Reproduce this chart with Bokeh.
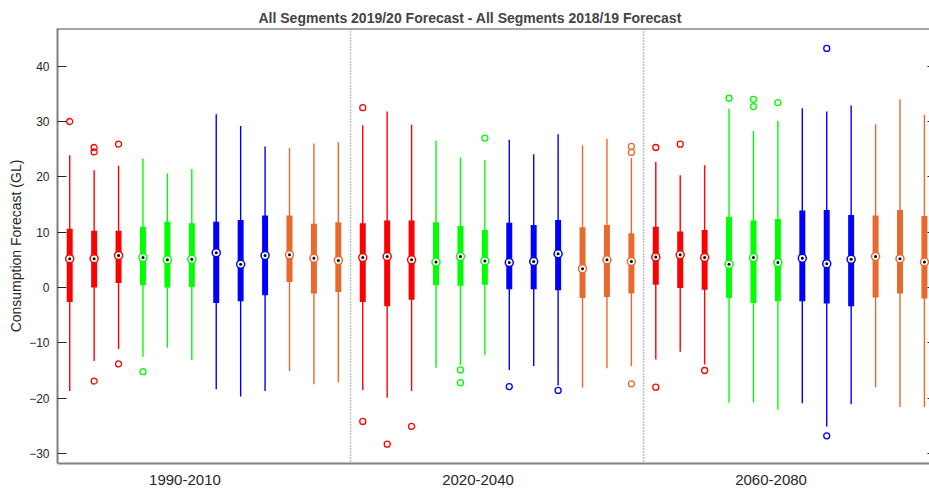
import numpy as np
from bokeh.plotting import figure
from bokeh.models import (Range1d, LinearAxis, SingleIntervalTicker, FixedTicker,
                          Span, ColumnDataSource, CustomLabelingPolicy)
from bokeh.embed import file_html
from bokeh.resources import INLINE

# --- data -----------------------------------------------------------------
periods = ["1990-2010", "2020-2040", "2060-2080"]
period_label_pos = [5.72, 17.72, 29.72]
series_colours = ["#FF0000"] * 3 + ["#00FF00"] * 3 + ["#0000FF"] * 3 + ["#E9692C"] * 3

whisker_hi = [23.9, 21.2, 22.0, 23.3, 20.6, 21.4, 31.3, 29.2, 25.5, 25.2, 26.0, 26.3,
              29.3, 31.8, 29.4, 26.5, 23.5, 23.0, 26.7, 24.1, 27.7, 25.7, 26.9, 23.4,
              22.7, 20.3, 22.1, 32.3, 28.3, 30.1, 32.4, 31.8, 32.9, 29.5, 34.0, 31.2]
q3 = [10.6, 10.25, 10.25, 11.0, 11.9, 11.6, 11.9, 12.2, 13.0, 13.0, 11.5, 11.8,
      11.6, 12.1, 12.1, 11.8, 11.1, 10.4, 11.7, 11.3, 12.2, 10.9, 11.3, 9.8,
      11.0, 10.1, 10.4, 12.8, 12.1, 12.4, 13.9, 14.0, 13.1, 13.0, 14.0, 12.9]
median = [5.2, 5.2, 5.8, 5.4, 5.0, 5.1, 6.3, 4.2, 5.8, 5.9, 5.3, 4.9,
          5.4, 5.6, 5.0, 4.6, 5.6, 4.8, 4.5, 4.7, 6.1, 3.4, 5.0, 4.7,
          5.5, 5.9, 5.4, 4.2, 5.4, 4.5, 5.3, 4.3, 5.1, 5.6, 5.2, 4.6]
q1 = [-2.6, 0.0, 0.8, 0.4, 0.0, 0.1, -2.8, -2.5, -1.4, 1.0, -1.1, -0.8,
      -2.6, -3.4, -2.2, 0.4, 0.3, 0.5, -0.3, -0.3, -0.5, -1.9, -1.7, -1.1,
      0.5, -0.1, -0.4, -1.9, -2.8, -2.5, -2.5, -2.9, -3.4, -1.8, -1.1, -2.0]
whisker_lo = [-18.7, -13.3, -11.1, -12.5, -10.9, -13.1, -18.4, -19.7, -18.7, -15.1, -17.5, -17.1,
              -18.5, -19.9, -18.7, -14.5, -14.0, -12.2, -14.9, -14.2, -17.7, -18.1, -14.6, -14.2,
              -13.0, -11.6, -13.9, -20.8, -20.8, -22.1, -20.9, -25.1, -21.1, -18.0, -21.6, -21.6]

# outliers: box number (1-based) and value
outlier_box = [1, 2, 2, 2, 3, 3, 4,
               13, 13, 14, 15, 17, 17, 18, 19, 21, 24, 24, 24,
               25, 25, 26, 27, 28, 29, 29, 30, 32, 32]
outlier_val = [30.0, 25.3, 24.5, -16.9, 25.9, -13.8, -15.2,
               32.5, -24.2, -28.3, -25.1, -14.9, -17.2, 27.0, -17.9, -18.6, 25.5, 24.4, -17.4,
               25.3, -18.0, 25.9, -15.0, 34.2, 34.0, 32.7, 33.4, 43.2, -26.8]

# --- layout helpers --------------------------------------------------------
n_boxes = len(median)
pos = np.arange(1, n_boxes + 1)
colours = [series_colours[i % len(series_colours)] for i in range(n_boxes)]

box_src = ColumnDataSource(dict(x=pos, lo=whisker_lo, q1=q1, med=median, q3=q3,
                                hi=whisker_hi, c=colours))
out_src = ColumnDataSource(dict(x=outlier_box, y=outlier_val,
                                c=[colours[b - 1] for b in outlier_box]))

FONT = "Liberation Sans"
Y_MIN, Y_MAX = -31.8, 46.8
X_MIN = 0.5
X_MAX = X_MIN + 872 / 24.42

p = figure(width=929, height=493, output_backend="svg", toolbar_location=None,
           x_range=Range1d(X_MIN, X_MAX), y_range=Range1d(Y_MIN, Y_MAX),
           min_border_left=57, min_border_right=0, min_border_top=28,
           min_border_bottom=30)
p.title.text = "All Segments 2019/20 Forecast - All Segments 2018/19 Forecast"
p.title.text_font = FONT
p.title.text_font_size = "14px"
p.title.text_font_style = "bold"
p.title.align = "left"
p.title.offset = 201
p.title.standoff = 5
p.outline_line_color = None
p.grid.grid_line_color = None
p.background_fill_color = "white"
p.border_fill_color = "white"

# y axis
ya = p.yaxis[0]
ya.ticker = SingleIntervalTicker(interval=10)
ya.axis_label = "Consumption Forecast (GL)"
ya.axis_label_text_font = FONT
ya.axis_label_text_font_size = "14px"
ya.axis_label_text_font_style = "normal"
ya.axis_label_text_color = "#262626"
ya.axis_label_standoff = 2
ya.major_label_text_font = FONT
ya.major_label_text_font_size = "12px"
ya.major_label_text_color = "#262626"
ya.major_label_standoff = 4
ya.major_tick_in = 9
ya.major_tick_out = 0
ya.major_tick_line_color = "#262626"
ya.minor_tick_line_color = None
ya.axis_line_color = "#808080"
ya.axis_line_width = 2

# x axis with period labels
xa = p.xaxis[0]
xa.ticker = FixedTicker(ticks=period_label_pos)
xa.major_label_overrides = {t: s for t, s in zip(period_label_pos, periods)}
xa.major_label_text_font = FONT
xa.major_label_text_font_size = "15px"
xa.major_label_text_color = "#262626"
xa.major_label_standoff = 11
xa.major_tick_in = 0
xa.major_tick_out = 0
xa.minor_tick_line_color = None
xa.axis_line_color = "#808080"
xa.axis_line_width = 2

# top border line
p.add_layout(Span(location=Y_MAX, dimension="width", line_color="#4d4d4d",
                  line_width=2))

# mirrored tick stubs along the right edge of the frame (no labels)
right = LinearAxis(ticker=SingleIntervalTicker(interval=10), major_tick_in=2,
                   major_tick_out=0, minor_tick_line_color=None,
                   major_tick_line_color="#262626",
                   major_label_text_font_size="1px", major_label_standoff=0,
                   major_label_policy=CustomLabelingPolicy(
                       code="for (const i of indices) indices.unset(i)"),
                   axis_line_color=None, fixed_location=X_MAX)
p.add_layout(right, "right")

# period separators
for xs in (12.5, 24.5):
    p.add_layout(Span(location=xs, dimension="height", line_color="#808080",
                      line_dash="1 2", line_width=1.5))

# whiskers
p.segment(x0="x", y0="lo", x1="x", y1="hi", line_color="c", line_width=1.4,
          source=box_src)
# boxes
p.vbar(x="x", width=0.245, bottom="q1", top="q3", fill_color="c",
       line_color=None, source=box_src)
# medians
p.scatter(x="x", y="med", size=8, marker="circle", fill_color="white",
          line_color="c", line_width=1.5, source=box_src)
p.scatter(x="x", y="med", size=3, marker="circle", fill_color="black",
          line_color=None, source=box_src)
# outliers
p.scatter(x="x", y="y", size=6, marker="circle", fill_color=None,
          line_color="c", line_width=1.3, source=out_src)

open("out.html", "w").write(file_html(p, INLINE))
